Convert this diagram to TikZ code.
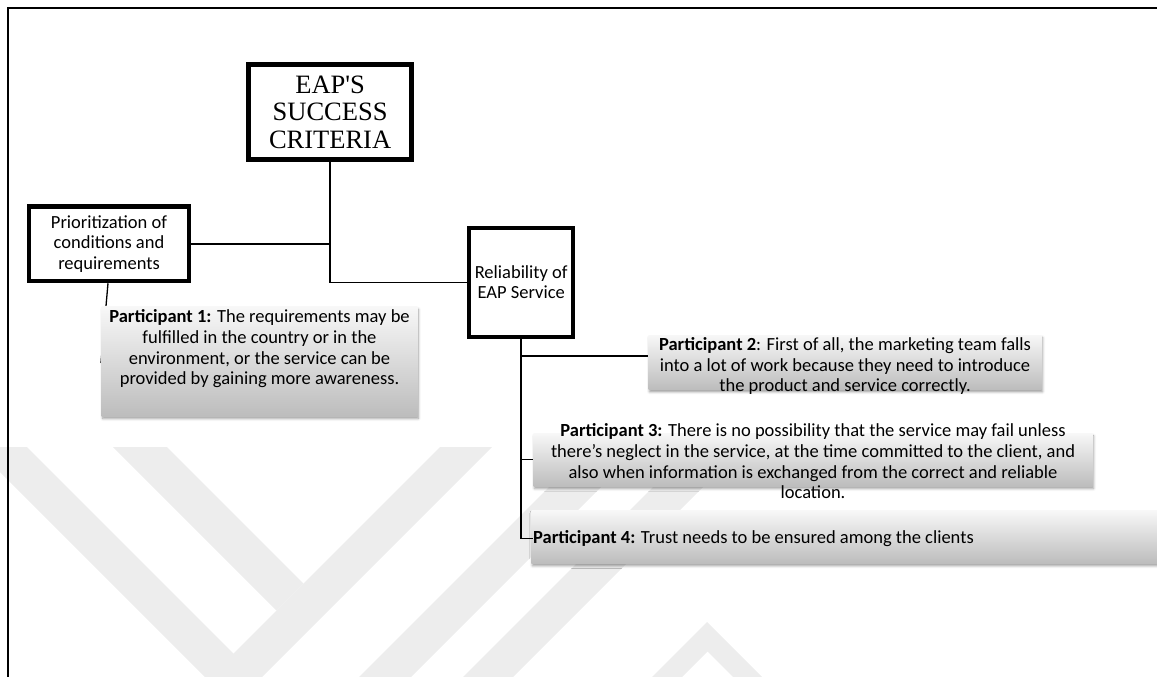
\documentclass[tikz,border=0pt]{standalone}
\usepackage{fontspec}
\setmainfont{Carlito}
\newfontfamily\serifface{Liberation Serif}[Ligatures=TeXOff]
\usetikzlibrary{shadows.blur}

\begin{document}
\begin{tikzpicture}[x=1pt,y=-1pt,
  wmark/.style={fill=black!7, draw=none},
  frameline/.style={line width=1.5pt},
  headbox/.style={draw=black, line width=5.2pt, fill=white, inner sep=0pt,
    align=center, font=\serifface\fontsize{26.5}{27.5}\selectfont},
  topicbox/.style={draw=black, line width=4.5pt, fill=white, inner sep=0pt,
    align=center, font=\fontsize{18.5}{20.5}\selectfont},
  quotebox/.style={inner sep=0pt, top color=black!3, bottom color=black!26,
    blur shadow={shadow xshift=1pt, shadow yshift=-2.5pt,
      shadow blur radius=2.5pt, shadow opacity=40}},
  quotetext/.style={inner sep=0pt, align=center,
    font=\fontsize{18.5}{20.7}\selectfont},
  link/.style={line width=1.5pt}
]
\useasboundingbox (0,0) rectangle (1157,677);

% faint watermark bands
\fill[wmark] (-25,447) -- (27,447) -- (257,677) -- (205,677) -- cycle;
\fill[wmark] (113,447) -- (167,447) -- (303.5,583.5) -- (276.5,610.5) -- cycle;
\fill[wmark] (440,447) -- (492,447) -- (262,677) -- (210,677) -- cycle;
\fill[wmark] (589,447) -- (641,447) -- (411,677) -- (359,677) -- cycle;
\fill[wmark] (693,447) -- (743,447) -- (513,677) -- (463,677) -- cycle;
\fill[wmark] (707,622) -- (762,677) -- (733,677) -- (707.5,651.5)
  -- (682,677) -- (652,677) -- cycle;

% page frame (top and left rules)
\draw[frameline] (8,677) -- (8,8) -- (1157,8);

% main boxes
\node[headbox, minimum width=162.8, minimum height=94.2] (eap) at (330.1,112)
  {EAP'S\\SUCCESS\\CRITERIA};
\node[topicbox, minimum width=160, minimum height=74.4] (prio) at (109,243.8)
  {Prioritization of\\conditions and\\requirements};
\node[topicbox, minimum width=104, minimum height=109] (rel) at (521.2,282.3)
  {Reliability of\\EAP Service};

% connector from the left box, running behind the first quote box
\coordinate (p1tick) at (101,363);
\draw[line width=1.3pt] ([xshift=-1pt]prio.south) -- (p1tick);

% quote boxes
\node[quotebox, minimum width=315.6, minimum height=109.3] (p1box) at (259.5,361.4) {};
\node[quotetext] (p1) at (259.5,349)
  {\textbf{Participant 1:} The requirements may be\\
   fulfilled in the country or in the\\
   environment, or the service can be\\
   provided by gaining more awareness.};

\node[quotebox, minimum width=393, minimum height=54.3] (p2box) at (845,362.2) {};
\node[quotetext] (p2) at (845,366)
  {\textbf{Participant 2}: First of all, the marketing team falls\\
   into a lot of work because they need to introduce\\
   the product and service correctly.};

\node[quotebox, minimum width=559, minimum height=52.7] (p3box) at (813,459.7) {};
\node[quotetext] (p3) at (813,461.5)
  {\textbf{Participant 3:} There is no possibility that the service may fail unless\\
   there’s neglect in the service, at the time committed to the client, and\\
   also when information is exchanged from the correct and reliable\\
   location.};

\node[quotebox, minimum width=625.6, minimum height=52.6] (p4box) at (844.2,537) {};
\node[quotetext, anchor=west] (p4) at (533,538.5)
  {\textbf{Participant 4:} Trust needs to be ensured among the clients};

% connectors
\draw[link] (eap.south) -- (eap.south |- rel.west) -- (rel.west);
\draw[link] (prio.east) -- (prio.east -| eap.south);
\draw[link] (rel.south) |- (p4.west);
\draw[link] ([yshift=6pt]p2box.west -| rel.south) -- ([yshift=6pt]p2box.west);
\draw[link] (p3box.west -| rel.south) -- (p3box.west);

\end{tikzpicture}
\end{document}
